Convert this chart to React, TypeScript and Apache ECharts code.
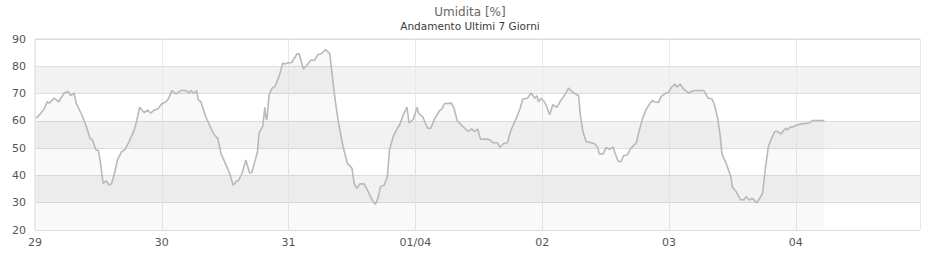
import React, { useEffect, useRef } from "react";
import * as echarts from "echarts";

const titleText = "Umidita [%]";
const subtitleText = "Andamento Ultimi 7 Giorni";

const dayLabels = ["29", "30", "31", "01/04", "02", "03", "04", ""];

// hours elapsed since 29 00:00
const hours = [
  0.25, 1.1, 1.7, 2.3, 2.7, 3.6, 4.5, 5.5, 6.25, 6.8, 7.4, 7.8, 9, 9.7, 10.4, 10.9, 11.5, 12, 12.4, 12.9,
  13.5, 14, 14.5, 15.2, 15.6, 16.4, 17, 17.8, 18.8, 19.3, 19.8, 20.7, 21.3, 21.9, 22.6, 23.2, 24, 24.8, 25.3, 25.9,
  26.7, 27.6, 28.6, 29.1, 29.5, 30, 30.6, 30.9, 31.4, 32.3, 33.3, 33.9, 34.6, 35.2, 36, 36.8, 37.5, 38.2, 38.5, 39.2,
  39.9, 40.6, 41, 41.7, 42.1, 42.4, 43.1, 43.5, 43.7, 43.9, 44.3, 44.9, 45.4, 46.2, 46.9, 47.3, 47.8, 48.6, 49.6, 50,
  50.8, 51.3, 52.2, 52.9, 53.5, 54.2, 55, 55.8, 56.1, 56.8, 57.4, 58.3, 59.1, 60, 60.4, 60.9, 61.5, 62.3, 63.2, 64,
  64.4, 64.9, 65.4, 66.1, 66.7, 67.1, 67.8, 68.6, 69, 69.7, 70.4, 70.8, 71.6, 72.3, 72.6, 73.4, 74.3, 74.9, 75.7, 76.6,
  77, 77.5, 78.8, 79.3, 79.9, 80.8, 82, 82.6, 83.2, 83.8, 84.3, 85.6, 86.2, 86.7, 87.5, 88, 88.6, 89.4, 90.1, 91.1,
  91.9, 92.3, 93.2, 93.9, 94.6, 95, 95.3, 95.8, 96.4, 96.9, 97.4, 98, 98.8, 99.5, 100.1, 101, 101.8, 102.9, 103.2, 103.7,
  104.3, 105.3, 105.9, 106.5, 106.8, 107.5, 108.1, 108.7, 109.4, 109.8, 110.4, 110.9, 111.4, 112.1, 112.8, 113.8, 114.4, 115, 115.7, 116.5,
  116.9, 117.2, 118, 118.5, 119.4, 119.9, 120.5, 121.1, 121.5, 122.1, 122.8, 123.7, 124.7, 126.6, 127.4, 128.1, 128.6, 129.2, 129.7, 130,
  130.8, 131.7, 132, 132.7, 133.5, 134.1, 134.6, 135.2, 135.7, 136.1, 136.6, 137.3, 137.7, 138.2, 138.8, 139.4, 140, 140.5, 141.2, 141.7,
  142.1, 142.4, 142.9, 143.6, 144.2, 145.1, 146.5, 147.1, 149.4,
];

const humidity = [
  61, 62.8, 64.3, 67, 66.5, 68.3, 67, 70.2, 70.8, 69.2, 70.2, 66.5, 61.6, 58, 53.6, 53, 49.4, 49.1, 44.5, 37.1,
  38, 36.5, 37, 42, 45.7, 48.7, 49.4, 52.4, 56.7, 60.4, 65, 63, 64, 62.8, 64, 64.3, 66.3, 67, 68.3, 71.1,
  69.9, 71.1, 71.1, 70.2, 71.1, 70.2, 71.1, 67.7, 67, 61.6, 57.3, 54.9, 53.6, 48.1, 44.5, 41, 36.4, 38, 38.1, 40.8,
  45.7, 41, 41, 45.7, 48.7, 55.5, 58, 65, 61, 60.4, 69.6, 72, 72.6, 76.3, 81.2, 80.8, 81.2, 81.4, 84.6, 84.6,
  79, 80, 82.2, 82.2, 84.2, 84.6, 86.1, 84.6, 79.4, 67.7, 59.8, 50.6, 44.5, 42.6, 37.1, 35.3, 36.9, 36.9, 33.5, 30.4,
  29.4, 31.6, 35.9, 36.5, 39.6, 49.4, 54.3, 57.3, 58.5, 62.2, 65, 59.2, 60.6, 65, 62.8, 61.4, 57.3, 57.3, 61, 63.8,
  64.3, 66.3, 66.5, 64.7, 60.1, 58.3, 56.1, 57.1, 56.1, 57, 53.3, 53.3, 53, 52, 52, 50.3, 51.6, 52, 56.7, 61,
  65, 68, 68.3, 70.2, 68.3, 69.2, 67, 68.3, 67, 65, 62.2, 65.9, 65, 67.5, 69, 72, 70.4, 69.2, 62.2, 56.1,
  52.4, 52, 51.6, 50.3, 47.9, 47.9, 50.3, 49.6, 50.3, 48.1, 45.1, 45.1, 47.2, 47.5, 50, 52, 56.7, 61, 64.3, 66.7,
  67.5, 67, 66.7, 68.9, 70.2, 70.4, 72.4, 73.5, 72.4, 73.5, 71.6, 70.2, 71.1, 71.1, 68.3, 68.1, 65.9, 61, 54.3, 47.9,
  44.5, 39.6, 35.7, 34.1, 31.2, 31, 32.2, 31, 31.6, 31, 30, 32, 33.5, 42, 50.6, 53.6, 56.1, 56.1, 55.2, 56.5,
  57.3, 56.7, 57.6, 57.9, 58.5, 58.9, 59.2, 60.1, 60.1,
];

export default function App() {
  const ref = useRef<HTMLDivElement>(null);
  useEffect(() => {
    if (!ref.current) return;
    const chart = echarts.init(ref.current, undefined, { renderer: "svg" });
    const font = "DejaVu Sans";
    chart.setOption({
      animation: false,
      backgroundColor: "#ffffff",
      title: {
        text: titleText,
        subtext: subtitleText,
        left: "center",
        top: 1,
        itemGap: 2,
        textStyle: { fontFamily: font, fontSize: 12, fontWeight: "normal", color: "#666666" },
        subtextStyle: { fontFamily: font, fontSize: 10.5, color: "#3a3a3a" },
      },
      grid: {
        left: 35,
        right: 20,
        top: 39,
        bottom: 30,
        show: true,
        borderColor: "#d4d4d4",
        borderWidth: 1,
        backgroundColor: "transparent",
      },
      xAxis: {
        type: "value",
        min: 0,
        max: 167.5,
        interval: 24,
        axisLine: { show: false },
        axisTick: { show: false },
        axisLabel: {
          fontFamily: font,
          fontSize: 11,
          color: "#555555",
          margin: 7,
          showMaxLabel: false,
          formatter: (v: number) => dayLabels[Math.round(v / 24)] ?? "",
        },
        splitLine: { show: true, lineStyle: { color: "#e6e6f7", width: 1 } },
      },
      yAxis: {
        type: "value",
        min: 20,
        max: 90,
        interval: 10,
        axisLine: { show: false },
        axisTick: { show: false },
        axisLabel: { fontFamily: font, fontSize: 11, color: "#555555", margin: 9 },
        splitLine: { show: true, lineStyle: { color: "#dddddd", width: 1 } },
        splitArea: { show: true, areaStyle: { color: ["#ffffff", "#f2f2f2"] } },
      },
      series: [
        {
          type: "line",
          data: hours.map((h, i) => [h, humidity[i]]),
          showSymbol: false,
          symbol: "none",
          lineStyle: { color: "#b9b9b9", width: 1.6 },
          areaStyle: { color: "rgba(0,0,0,0.032)", origin: "start" },
          z: 3,
        },
      ],
    });
    return () => chart.dispose();
  }, []);
  return <div ref={ref} style={{ width: 940, height: 260, position: "absolute", left: 0, top: 0 }} />;
}
